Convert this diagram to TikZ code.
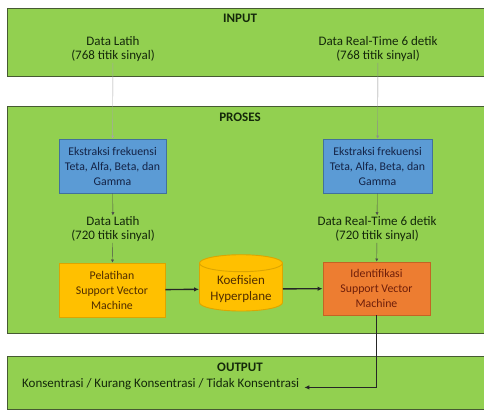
\documentclass[tikz,border=0pt]{standalone}
\usepackage{fontspec}
\setmainfont{Carlito}
\usetikzlibrary{shapes.geometric,arrows.meta,positioning}

\definecolor{hijau}{RGB}{146,208,80}
\definecolor{hijaugaris}{RGB}{70,90,50}
\definecolor{biru}{RGB}{91,155,213}
\definecolor{birugaris}{RGB}{65,113,156}
\definecolor{kuning}{RGB}{255,192,0}
\definecolor{kuninggaris}{RGB}{220,165,0}
\definecolor{oranye}{RGB}{237,125,49}
\definecolor{oranyegaris}{RGB}{196,100,36}
\definecolor{tekshijau}{RGB}{20,40,10}
\definecolor{teksbiru}{RGB}{20,35,70}
\definecolor{tekscoklat}{RGB}{80,45,0}
\definecolor{teksmerah}{RGB}{110,30,10}

\tikzset{
  panel/.style={draw=hijaugaris, fill=hijau, line width=0.9pt},
  judul/.style={font=\fontsize{13}{14}\selectfont\bfseries, text=tekshijau},
  teks/.style={align=center, font=\fontsize{13}{14}\selectfont, text=tekshijau, inner sep=1pt},
  kotak/.style={rectangle, align=center, minimum width=107pt, minimum height=54pt,
    font=\fontsize{11.8}{15}\selectfont, line width=0.9pt},
  tipis/.style={-{Latex[length=3pt,width=3pt]}, black!70, line width=0.4pt},
  tebal/.style={-{Latex[length=5pt,width=4.5pt]}, black!85, line width=1.4pt}
}

\begin{document}
\begin{tikzpicture}[x=1pt,y=-1pt]
\clip (0,0) rectangle (484,410);

% panel latar
\draw[panel] (7,8) rectangle (495,76);
\draw[panel] (7,106) rectangle (495,333);
\draw[panel] (7,356) rectangle (495,409);

% input
\node[judul] (hin) at (240,18) {INPUT};
\node[teks] (latih1) at (113,49) {Data Latih\\(768 titik sinyal)};
\node[teks] (real1) at (378,49) {Data Real-Time 6 detik\\(768 titik sinyal)};

% proses
\node[judul] (hpro) at (240,117) {PROSES};
\node[kotak, fill=biru, draw=birugaris, text=teksbiru] (eks1) at (112.5,166) {Ekstraksi frekuensi\\Teta, Alfa, Beta, dan\\Gamma};
\node[kotak, fill=biru, draw=birugaris, text=teksbiru, minimum width=109pt] (eks2) at (377.5,166) {Ekstraksi frekuensi\\Teta, Alfa, Beta, dan\\Gamma};
\node[teks] (latih2) at (113,229) {Data Latih\\(720 titik sinyal)};
\node[teks] (real2) at (377,229) {Data Real-Time 6 detik\\(720 titik sinyal)};
\node[kotak, fill=kuning, draw=kuninggaris, text=tekscoklat, minimum width=106pt] (latih) at (112,290) {Pelatihan\\Support Vector\\Machine};
\node[cylinder, shape border rotate=90, aspect=0.25, draw=kuninggaris, fill=kuning, line width=0.9pt,
  minimum width=83pt, minimum height=50pt, align=center, text=tekscoklat,
  font=\fontsize{13}{16}\selectfont] (koef) at (241,289) {Koefisien\\Hyperplane};
\node[kotak, fill=oranye, draw=oranyegaris, text=teksmerah, minimum height=53pt] (idf) at (376.5,288.5) {Identifikasi\\Support Vector\\Machine};

% output
\node[judul] (hout) at (240,367) {OUTPUT};
\node[teks, anchor=west] (hasil) at (21,384) {Konsentrasi / Kurang Konsentrasi / Tidak Konsentrasi};

% panah
\draw[tipis, black!35] (latih1) -- (eks1);
\draw[tipis, black!45] (real1) -- (eks2);
\draw[tipis] (eks1) -- (latih2);
\draw[tipis] (eks2) -- (real2);
\draw[tipis] (latih2) -- (latih);
\draw[tipis] (real2) -- (idf);
\draw[tebal] (latih) -- (koef);
\draw[tebal] (koef) -- (idf);
\draw[tebal] (idf.south) |- ([xshift=4pt]hasil.base east);
\end{tikzpicture}
\end{document}
